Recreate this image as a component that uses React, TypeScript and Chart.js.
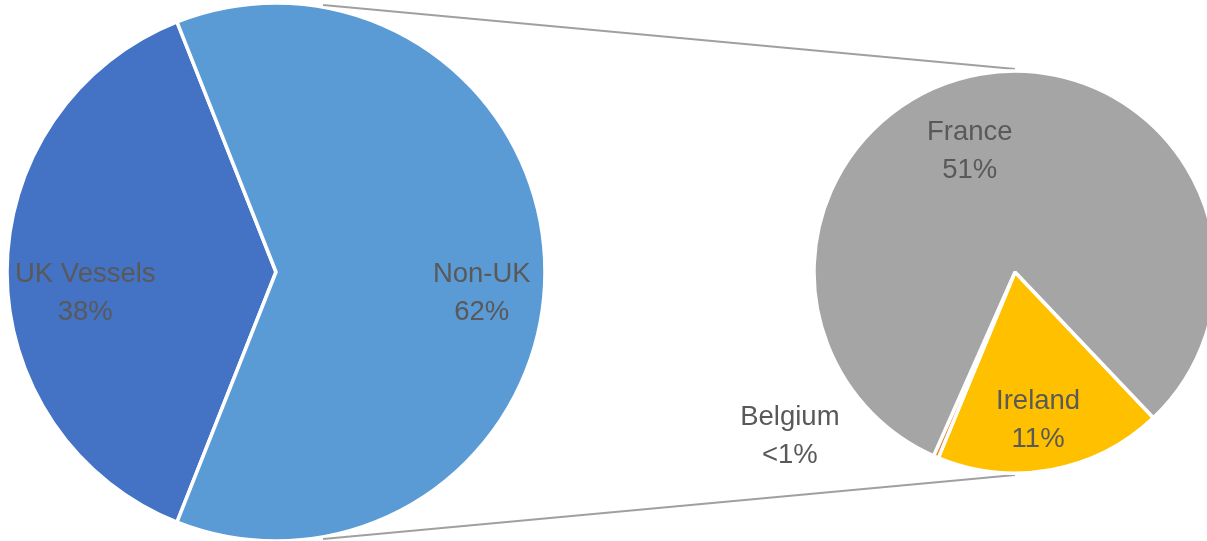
import React, { useEffect, useRef } from "react";
import { Chart, registerables } from "chart.js";

Chart.register(...registerables);

// ---- data ----
const mainCategories = ["UK Vessels", "Non-UK"];
const mainValues = [38, 62];
const mainColors = ["#4472C4", "#5B9BD5"];

const subCategories = ["Ireland", "Belgium", "France"];
const subValues = [11.4, 0.25, 50.6];
const subColors = ["#FFC000", "#ED7D31", "#A5A5A5"];

const W = 1207;
const H = 541;
const FONT = "'Liberation Sans', Arial, sans-serif";
const TEXT_COLOR = "#595959";

const sum = (a: number[]) => a.reduce((s, v) => s + v, 0);

const sliceLabels = {
  id: "sliceLabels",
  afterDatasetsDraw(chart: any, _args: any, opts: any) {
    const meta = chart.getDatasetMeta(0);
    const ds = chart.data.datasets[0];
    const labels = chart.data.labels;
    const ctx = chart.ctx;
    ctx.save();
    ctx.font = `${opts.size}px ${FONT}`;
    ctx.fillStyle = TEXT_COLOR;
    ctx.textAlign = "center";
    ctx.textBaseline = "alphabetic";
    meta.data.forEach((arc: any, i: number) => {
      const [fx, fy] = opts.offsets[i];
      const cx = arc.x + fx * arc.outerRadius;
      const cy = arc.y + fy * arc.outerRadius;
      const v = ds.data[i];
      const pct = (v / opts.total) * 100;
      const pctText = pct < 1 ? "<1%" : Math.round(pct) + "%";
      const half = opts.lineGap / 2;
      const capHalf = (opts.size * 0.716) / 2;
      ctx.fillText(labels[i], cx, cy - half + capHalf);
      ctx.fillText(pctText, cx, cy + half + capHalf);
    });
    ctx.restore();
  },
};

export default function App() {
  const ref1 = useRef<HTMLCanvasElement>(null);
  const ref2 = useRef<HTMLCanvasElement>(null);

  useEffect(() => {
    document.body.style.margin = "0";
    const total = sum(mainValues);
    const ukAngle = (mainValues[0] / total) * 360;
    const mainRotation = 180 - ukAngle / 2 + 90;

    const c1 = new Chart(ref1.current!, {
      type: "pie",
      data: {
        labels: mainCategories,
        datasets: [
          {
            data: mainValues,
            backgroundColor: mainColors,
            borderColor: "#ffffff",
            borderWidth: 3.5,
            radius: 269,
            clip: false,
          } as any,
        ],
      },
      options: {
        responsive: false,
        animation: false,
        devicePixelRatio: 1,
        rotation: mainRotation,
        layout: { padding: { left: 0, right: W - 552, top: 3, bottom: 0 } },
        plugins: {
          legend: { display: false },
          tooltip: { enabled: false },
          sliceLabels: {
            size: 27.5,
            lineGap: 38,
            total,
            offsets: [
              [-0.709, 0.073],
              [0.765, 0.073],
            ],
          },
        } as any,
      },
      plugins: [sliceLabels],
    });

    const connectors = {
      id: "connectors",
      beforeDatasetsDraw(chart: any) {
        const a: any = c1.getDatasetMeta(0).data[0];
        const b: any = chart.getDatasetMeta(0).data[0];
        if (!a || !b) return;
        const ctx = chart.ctx;
        ctx.save();
        ctx.strokeStyle = "#A0A0A0";
        ctx.lineWidth = 2;
        [-1, 1].forEach((s) => {
          const t = (s * 80 * Math.PI) / 180;
          const r1 = a.outerRadius + 2;
          const x1 = a.x + r1 * Math.cos(t);
          const y1 = a.y + r1 * Math.sin(t);
          const x2 = b.x;
          const y2 = b.y + s * (b.outerRadius + 2);
          ctx.beginPath();
          ctx.moveTo(x1, y1);
          ctx.lineTo(x2, y2);
          ctx.stroke();
        });
        ctx.restore();
      },
    };

    const c2 = new Chart(ref2.current!, {
      type: "pie",
      data: {
        labels: subCategories,
        datasets: [
          {
            data: subValues,
            backgroundColor: subColors,
            borderColor: "#ffffff",
            borderWidth: 3.5,
            radius: 201,
            clip: false,
          } as any,
        ],
      },
      options: {
        responsive: false,
        animation: false,
        devicePixelRatio: 1,
        rotation: 136.5,
        layout: { padding: { left: 823, right: 0, top: 3, bottom: 0 } },
        plugins: {
          legend: { display: false },
          tooltip: { enabled: false },
          sliceLabels: {
            size: 27.5,
            lineGap: 38,
            total,
            offsets: [
              [0.115, 0.7275],
              [-1.12, 0.805],
              [-0.225, -0.61],
            ],
          },
        } as any,
      },
      plugins: [connectors, sliceLabels],
    });

    return () => {
      c2.destroy();
      c1.destroy();
    };
  }, []);

  return (
    <div
      style={{
        position: "absolute",
        left: 0,
        top: 0,
        width: W,
        height: H,
        background: "#ffffff",
        overflow: "hidden",
      }}
    >
      <canvas
        ref={ref1}
        width={W}
        height={H}
        style={{ position: "absolute", left: 0, top: 0, display: "block" }}
      />
      <canvas
        ref={ref2}
        width={W}
        height={H}
        style={{ position: "absolute", left: 0, top: 0, display: "block" }}
      />
    </div>
  );
}
